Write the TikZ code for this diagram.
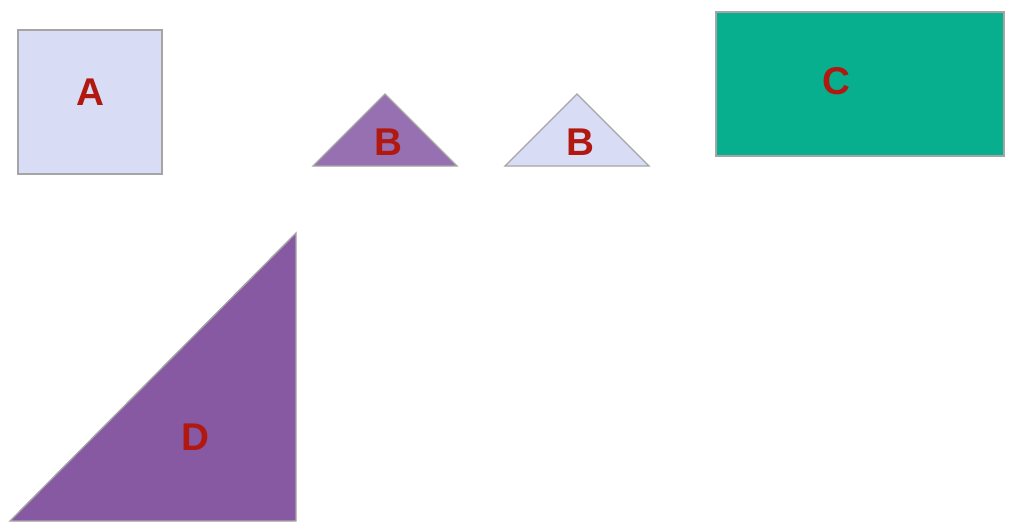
\documentclass[tikz,border=0pt]{standalone}
\usepackage{fontspec}
\setmainfont{Liberation Sans}
\definecolor{lavender}{RGB}{217,220,245}
\definecolor{lightpurple}{RGB}{150,112,176}
\definecolor{darkpurple}{RGB}{135,89,163}
\definecolor{seagreen}{RGB}{8,175,143}
\definecolor{labelred}{RGB}{176,24,16}
\definecolor{edgegray}{RGB}{165,165,165}
\tikzset{every picture/.style={line width=0.75pt}}
\tikzset{
  shapeedge/.style={draw=edgegray, line width=1pt},
  letter/.style={inner sep=0.75pt, text=labelred, font=\fontsize{29}{30}\selectfont\bfseries}
}
\begin{document}
\begin{tikzpicture}[x=0.75pt,y=0.75pt,yscale=-1,xscale=1]
%set diagram left start at 0, and has height of 529
\useasboundingbox (0,0) rectangle (1013,529);

%Shape: Square [id:A]
\draw [shapeedge, fill=lavender] (18,30) -- (162,30) -- (162,174) -- (18,174) -- cycle ;
%Shape: Triangle [id:B1]
\draw [shapeedge, fill=lightpurple] (313,166) -- (385,94) -- (457,166) -- cycle ;
%Shape: Triangle [id:B2]
\draw [shapeedge, fill=lavender] (505,166) -- (577,94) -- (649,166) -- cycle ;
%Shape: Rectangle [id:C]
\draw [shapeedge, fill=seagreen] (716,12) -- (1004,12) -- (1004,156) -- (716,156) -- cycle ;
%Shape: Right Triangle [id:D]
\draw [shapeedge, fill=darkpurple] (10,521) -- (296,233) -- (296,521) -- cycle ;

% Text Node
\node [letter] (labelA) at (90,92) {A};
% Text Node
\node [letter] (labelB1) at (388,142) {B};
% Text Node
\node [letter] (labelB2) at (580,142) {B};
% Text Node
\node [letter] (labelC) at (836,81) {C};
% Text Node
\node [letter] (labelD) at (195,437) {D};

\end{tikzpicture}
\end{document}
